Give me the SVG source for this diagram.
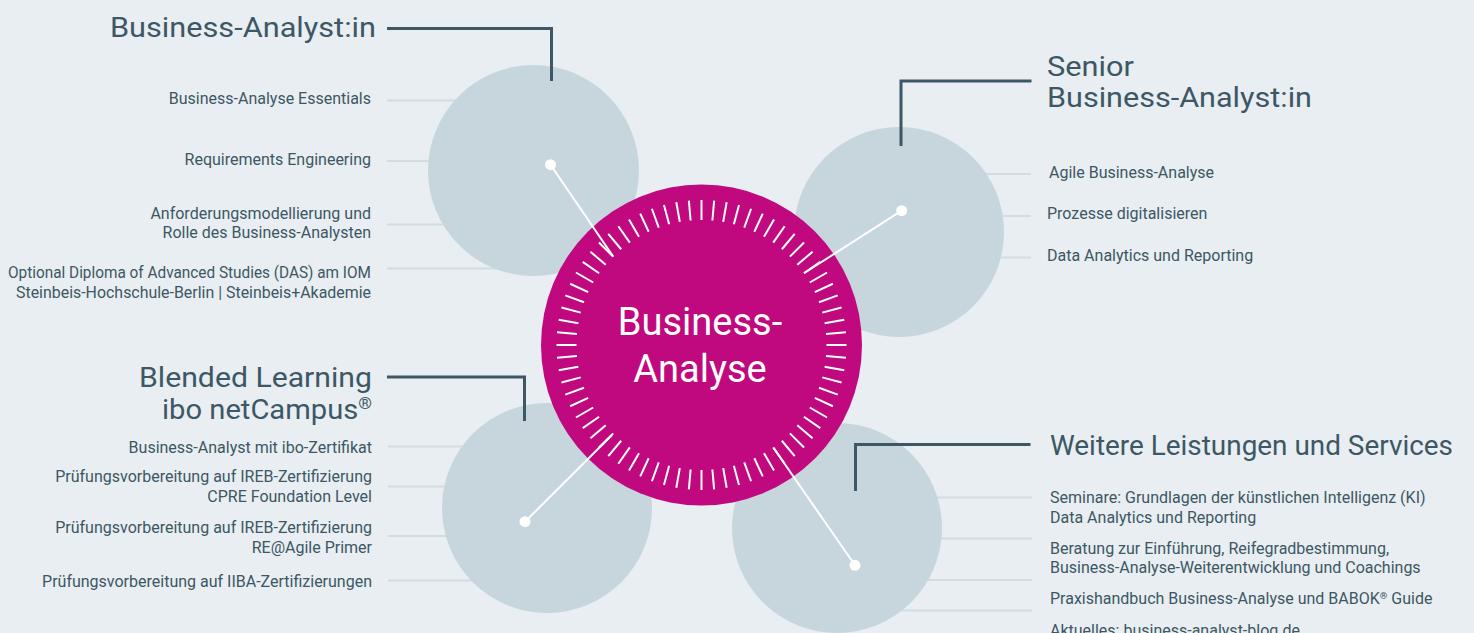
<svg xmlns="http://www.w3.org/2000/svg" xmlns:xlink="http://www.w3.org/1999/xlink" width="1474" height="633" viewBox="0 0 1474 633">
<defs>
<style>
.bg{fill:#e8eef1}
.grey{fill:#c7d5dd}
.hub{fill:#c0097e}
.head{font-family:Roboto,"Liberation Sans",sans-serif;font-size:28px;fill:#3d5764}
.item{font-family:Roboto,"Liberation Sans",sans-serif;font-size:16px;fill:#3d5764}
.hubtxt{font-family:Roboto,"Liberation Sans",sans-serif;font-size:38px;fill:#ffffff;text-anchor:middle}
.end{text-anchor:end}
.sup{font-size:60%;baseline-shift:super}
.bracket{fill:none;stroke:#3d5764;stroke-width:3}
.rule{stroke:#d2dce3;stroke-width:2}
.conn{stroke:#ffffff;stroke-width:2}
.dot{fill:#ffffff}
.tick{stroke:#ffffff;stroke-width:2}
</style>
<line id="tk" class="tick" x1="0" y1="-145" x2="0" y2="-125"/>
</defs>
<rect class="bg" x="0" y="0" width="1474" height="633"/>

<g id="rules">
<line class="rule" x1="387" y1="100.5" x2="533" y2="100.5"/>
<line class="rule" x1="387" y1="161" x2="533" y2="161"/>
<line class="rule" x1="387" y1="224.5" x2="533" y2="224.5"/>
<line class="rule" x1="387" y1="268.5" x2="533" y2="268.5"/>
<line class="rule" x1="899" y1="174" x2="1031" y2="174"/>
<line class="rule" x1="899" y1="216" x2="1031" y2="216"/>
<line class="rule" x1="899" y1="257.5" x2="1031" y2="257.5"/>
<line class="rule" x1="388" y1="446.5" x2="547" y2="446.5"/>
<line class="rule" x1="388" y1="486.5" x2="547" y2="486.5"/>
<line class="rule" x1="388" y1="536" x2="547" y2="536"/>
<line class="rule" x1="388" y1="580.5" x2="547" y2="580.5"/>
<line class="rule" x1="837" y1="497.5" x2="1032" y2="497.5"/>
<line class="rule" x1="837" y1="538.5" x2="1032" y2="538.5"/>
<line class="rule" x1="837" y1="580" x2="1032" y2="580"/>
<line class="rule" x1="837" y1="610.5" x2="1032" y2="610.5"/>
</g>

<g id="node-business-analyst">
<circle class="grey" cx="533.5" cy="170.5" r="105.5"/>
<text class="head end" x="376" y="37" textLength="266" lengthAdjust="spacingAndGlyphs">Business-Analyst:in</text>
<polyline class="bracket" points="387,28.5 551.5,28.5 551.5,81"/>
<text class="item end" x="371" y="104">Business-Analyse Essentials</text>
<text class="item end" x="371" y="165">Requirements Engineering</text>
<text class="item end" x="371" y="219">Anforderungsmodellierung und</text>
<text class="item end" x="371" y="238">Rolle des Business-Analysten</text>
<text class="item end" x="371" y="278" textLength="363" lengthAdjust="spacingAndGlyphs">Optional Diploma of Advanced Studies (DAS) am IOM</text>
<text class="item end" x="371" y="298" textLength="355" lengthAdjust="spacingAndGlyphs">Steinbeis-Hochschule-Berlin | Steinbeis+Akademie</text>
</g>

<g id="node-senior">
<circle class="grey" cx="899" cy="232" r="105"/>
<text class="head" x="1047" y="76" textLength="87" lengthAdjust="spacingAndGlyphs">Senior</text>
<text class="head" x="1047" y="107" textLength="265" lengthAdjust="spacingAndGlyphs">Business-Analyst:in</text>
<polyline class="bracket" points="1031.5,81 901,81 901,146"/>
<text class="item" x="1049" y="178">Agile Business-Analyse</text>
<text class="item" x="1047" y="219">Prozesse digitalisieren</text>
<text class="item" x="1047" y="261">Data Analytics und Reporting</text>
</g>

<g id="node-blended">
<circle class="grey" cx="547" cy="508" r="105"/>
<text class="head end" x="372" y="387" textLength="233" lengthAdjust="spacingAndGlyphs">Blended Learning</text>
<text class="head end" x="372" y="418.5" textLength="210" lengthAdjust="spacingAndGlyphs">ibo netCampus<tspan class="sup">®</tspan></text>
<polyline class="bracket" points="387,377 524.5,377 524.5,421"/>
<text class="item end" x="372" y="453">Business-Analyst mit ibo-Zertifikat</text>
<text class="item end" x="372" y="482">Prüfungsvorbereitung auf IREB-Zertifizierung</text>
<text class="item end" x="372" y="502">CPRE Foundation Level</text>
<text class="item end" x="372" y="533">Prüfungsvorbereitung auf IREB-Zertifizierung</text>
<text class="item end" x="372" y="553">RE@Agile Primer</text>
<text class="item end" x="372" y="587">Prüfungsvorbereitung auf IIBA-Zertifizierungen</text>
</g>

<g id="node-weitere">
<circle class="grey" cx="837" cy="528" r="105"/>
<text class="head" x="1050" y="455" textLength="403" lengthAdjust="spacingAndGlyphs">Weitere Leistungen und Services</text>
<polyline class="bracket" points="1030.5,444.5 855.5,444.5 855.5,491"/>
<text class="item" x="1050" y="503">Seminare: Grundlagen der künstlichen Intelligenz (KI)</text>
<text class="item" x="1050" y="523">Data Analytics und Reporting</text>
<text class="item" x="1050" y="553.5">Beratung zur Einführung, Reifegradbestimmung,</text>
<text class="item" x="1050" y="573">Business-Analyse-Weiterentwicklung und Coachings</text>
<text class="item" x="1050" y="604">Praxishandbuch Business-Analyse und BABOK<tspan class="sup">®</tspan> Guide</text>
<text class="item" x="1050" y="636">Aktuelles: business-analyst-blog.de</text>
</g>

<g id="node-hub">
<circle class="hub" cx="701.5" cy="345" r="160.5"/>
<g transform="translate(701.5,345)">
<use href="#tk" transform="rotate(0)"/><use href="#tk" transform="rotate(5)"/><use href="#tk" transform="rotate(10)"/><use href="#tk" transform="rotate(15)"/>
<use href="#tk" transform="rotate(20)"/><use href="#tk" transform="rotate(25)"/><use href="#tk" transform="rotate(30)"/><use href="#tk" transform="rotate(35)"/>
<use href="#tk" transform="rotate(40)"/><use href="#tk" transform="rotate(45)"/><use href="#tk" transform="rotate(50)"/><use href="#tk" transform="rotate(55)"/>
<use href="#tk" transform="rotate(60)"/><use href="#tk" transform="rotate(65)"/><use href="#tk" transform="rotate(70)"/><use href="#tk" transform="rotate(75)"/>
<use href="#tk" transform="rotate(80)"/><use href="#tk" transform="rotate(85)"/><use href="#tk" transform="rotate(90)"/><use href="#tk" transform="rotate(95)"/>
<use href="#tk" transform="rotate(100)"/><use href="#tk" transform="rotate(105)"/><use href="#tk" transform="rotate(110)"/><use href="#tk" transform="rotate(115)"/>
<use href="#tk" transform="rotate(120)"/><use href="#tk" transform="rotate(125)"/><use href="#tk" transform="rotate(130)"/><use href="#tk" transform="rotate(135)"/>
<use href="#tk" transform="rotate(140)"/><use href="#tk" transform="rotate(145)"/><use href="#tk" transform="rotate(150)"/><use href="#tk" transform="rotate(155)"/>
<use href="#tk" transform="rotate(160)"/><use href="#tk" transform="rotate(165)"/><use href="#tk" transform="rotate(170)"/><use href="#tk" transform="rotate(175)"/>
<use href="#tk" transform="rotate(180)"/><use href="#tk" transform="rotate(185)"/><use href="#tk" transform="rotate(190)"/><use href="#tk" transform="rotate(195)"/>
<use href="#tk" transform="rotate(200)"/><use href="#tk" transform="rotate(205)"/><use href="#tk" transform="rotate(210)"/><use href="#tk" transform="rotate(215)"/>
<use href="#tk" transform="rotate(220)"/><use href="#tk" transform="rotate(225)"/><use href="#tk" transform="rotate(230)"/><use href="#tk" transform="rotate(235)"/>
<use href="#tk" transform="rotate(240)"/><use href="#tk" transform="rotate(245)"/><use href="#tk" transform="rotate(250)"/><use href="#tk" transform="rotate(255)"/>
<use href="#tk" transform="rotate(260)"/><use href="#tk" transform="rotate(265)"/><use href="#tk" transform="rotate(270)"/><use href="#tk" transform="rotate(275)"/>
<use href="#tk" transform="rotate(280)"/><use href="#tk" transform="rotate(285)"/><use href="#tk" transform="rotate(290)"/><use href="#tk" transform="rotate(295)"/>
<use href="#tk" transform="rotate(300)"/><use href="#tk" transform="rotate(305)"/><use href="#tk" transform="rotate(310)"/><use href="#tk" transform="rotate(315)"/>
<use href="#tk" transform="rotate(320)"/><use href="#tk" transform="rotate(325)"/><use href="#tk" transform="rotate(330)"/><use href="#tk" transform="rotate(335)"/>
<use href="#tk" transform="rotate(340)"/><use href="#tk" transform="rotate(345)"/><use href="#tk" transform="rotate(350)"/><use href="#tk" transform="rotate(355)"/>
</g>
<text class="hubtxt" x="700" y="334.5">Business-</text>
<text class="hubtxt" x="700" y="382">Analyse</text>
</g>

<g id="connectors">
<line class="conn" x1="550.5" y1="164.7" x2="613.3" y2="256.7"/>
<line class="conn" x1="901.7" y1="210.7" x2="804.3" y2="273"/>
<line class="conn" x1="525" y1="521.7" x2="612" y2="435"/>
<line class="conn" x1="855" y1="565.3" x2="773.8" y2="448.3"/>
<circle class="dot" cx="550.5" cy="164.7" r="5.5"/>
<circle class="dot" cx="901.7" cy="210.7" r="5.5"/>
<circle class="dot" cx="525" cy="521.7" r="5.5"/>
<circle class="dot" cx="855" cy="565.3" r="5.5"/>
</g>
</svg>
